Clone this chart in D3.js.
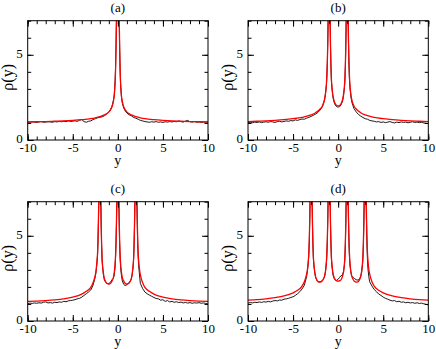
<!DOCTYPE html>
<html>
<head>
<meta charset="utf-8">
<script src="https://cdn.jsdelivr.net/npm/d3@7"></script>
<style>
  body { margin: 0; background: #fff; }
  svg { display: block; }
  text { font-family: "Liberation Serif", "Times New Roman", serif; fill: #000; }
</style>
</head>
<body>
<div id="chart"></div>
<script>
// ---- data ----
const titles = ["(a)", "(b)", "(c)", "(d)"];
const xTicks = [-10, -5, 0, 5, 10];
const yTicks = [0, 5];

// panel (a): single peak at 0
const redA = [[-10,1.06],[-9,1.07],[-8,1.08],[-7,1.1],[-6,1.12],[-5,1.15],[-4,1.19],[-3,1.25],[-2.5,1.3],[-2,1.37],[-1.5,1.47],[-1.2,1.56],[-1,1.65],[-0.8,1.78],[-0.65,1.95],[-0.5,2.25],[-0.4,2.6],[-0.3,3.4],[-0.25,4.2],[-0.2,5.5],[-0.15,7.2],[-0.1,9],[0,14],
  [0.1,9],[0.15,7.2],[0.2,5.5],[0.25,4.2],[0.3,3.4],[0.4,2.6],[0.5,2.25],[0.65,1.95],[0.8,1.78],[1,1.65],[1.2,1.56],[1.5,1.47],[2,1.37],[2.5,1.3],[3,1.25],[4,1.19],[5,1.15],[6,1.12],[7,1.1],[8,1.08],[9,1.07],[10,1.06]];
const blackA = [[-10,1.05],[-9.75,1.04],[-9.5,1.06],[-9.25,1.05],[-9,1.03],[-8.75,1.06],[-8.5,1.08],[-8.25,1.04],[-8,1.05],[-7.75,1.07],[-7.5,1.06],[-7.25,1.04],[-7,1.08],[-6.75,1.06],[-6.5,1.09],[-6.25,1.07],[-6,1.1],[-5.75,1.08],[-5.5,1.12],[-5.25,1.09],[-5,1.1],[-4.75,1.13],[-4.5,1.09],[-4.25,1.16],[-4,1.2],[-3.75,1.08],[-3.5,1.04],[-3.25,1.1],[-3,1.12],[-2.75,1.2],[-2.5,1.25],[-2.25,1.3],[-2,1.33],[-1.75,1.36],[-1.5,1.42],[-1.25,1.52],[-1,1.63],[-0.8,1.8],[-0.65,1.98],[-0.5,2.3],[-0.4,2.65],[-0.3,3.5],[-0.25,4.3],[-0.2,5.6],[-0.15,7.3],[-0.1,9.2],[0,14],
  [0.1,9],[0.15,7.1],[0.2,5.4],[0.25,4.1],[0.3,3.3],[0.4,2.5],[0.5,2.15],[0.65,1.88],[0.8,1.72],[1,1.58],[1.25,1.48],[1.5,1.42],[1.75,1.32],[2,1.28],[2.25,1.22],[2.5,1.15],[2.75,1.12],[3,1.08],[3.25,1.06],[3.5,1.04],[3.75,1.07],[4,1.05],[4.25,1.08],[4.5,1.04],[4.75,1.06],[5,1.03],[5.25,1.07],[5.5,1.05],[5.75,1.08],[6,1.06],[6.25,1.09],[6.5,1.07],[6.75,1.12],[7,1.08],[7.25,1.05],[7.5,1.11],[7.75,1.15],[8,1.07],[8.25,1.05],[8.5,1.08],[8.75,1.04],[9,1.06],[9.25,1.03],[9.5,1.05],[9.75,1.04],[10,1.06]];

// panel (b): peaks at -1, 1
const redB = [[-10,1.08],[-9,1.1],[-8,1.12],[-7,1.15],[-6,1.19],[-5,1.25],[-4,1.33],[-3,1.47],[-2.5,1.6],[-2,1.82],[-1.75,2.0],[-1.5,2.4],[-1.4,2.75],[-1.3,3.3],[-1.25,3.8],[-1.2,4.6],[-1.15,5.8],[-1.1,7.5],[-1.05,10],[-1,15],[-0.95,10],[-0.9,7.3],[-0.85,5.6],[-0.8,4.4],[-0.75,3.6],[-0.7,3.2],[-0.6,2.7],[-0.5,2.4],[-0.35,2.15],[-0.2,2.04],[0,2.0],
  [0.2,2.04],[0.35,2.15],[0.5,2.4],[0.6,2.7],[0.7,3.2],[0.75,3.6],[0.8,4.4],[0.85,5.6],[0.9,7.3],[0.95,10],[1,15],[1.05,10],[1.1,7.5],[1.15,5.8],[1.2,4.6],[1.25,3.8],[1.3,3.3],[1.4,2.75],[1.5,2.4],[1.75,2.0],[2,1.82],[2.5,1.6],[3,1.47],[4,1.33],[5,1.25],[6,1.19],[7,1.15],[8,1.12],[9,1.1],[10,1.08]];
const blackB = [[-10,1.02],[-9.75,1.04],[-9.5,1.01],[-9.25,1.05],[-9,1.03],[-8.75,1.06],[-8.5,1.02],[-8.25,1.05],[-8,1.07],[-7.75,1.04],[-7.5,1.08],[-7.25,1.06],[-7,1.03],[-6.75,1.08],[-6.5,1.1],[-6.25,1.06],[-6,1.09],[-5.75,1.12],[-5.5,1.1],[-5.25,1.14],[-5,1.12],[-4.75,1.18],[-4.5,1.15],[-4.25,1.2],[-4,1.23],[-3.75,1.22],[-3.5,1.28],[-3.25,1.33],[-3,1.38],[-2.75,1.45],[-2.5,1.52],[-2.25,1.62],[-2,1.76],[-1.75,1.95],[-1.5,2.38],[-1.4,2.72],[-1.3,3.25],[-1.25,3.75],[-1.2,4.5],[-1.15,5.7],[-1.1,7.4],[-1.05,10],[-1,15],[-0.95,10],[-0.9,7.2],[-0.85,5.5],[-0.8,4.3],[-0.75,3.5],[-0.7,3.1],[-0.6,2.6],[-0.5,2.3],[-0.35,2.08],[-0.2,1.97],[-0.1,1.93],[0,1.96],
  [0.1,1.92],[0.2,1.98],[0.35,2.1],[0.5,2.3],[0.6,2.6],[0.7,3.1],[0.75,3.5],[0.8,4.3],[0.85,5.5],[0.9,7.2],[0.95,10],[1,15],[1.05,10],[1.1,7.3],[1.15,5.6],[1.2,4.4],[1.25,3.6],[1.3,3.1],[1.4,2.6],[1.5,2.25],[1.75,1.85],[2,1.65],[2.25,1.5],[2.5,1.4],[2.75,1.32],[3,1.25],[3.25,1.22],[3.5,1.15],[3.75,1.12],[4,1.1],[4.25,1.06],[4.5,1.08],[4.75,1.03],[5,1.06],[5.25,1.02],[5.5,1.05],[5.75,1.08],[6,1.03],[6.25,1.0],[6.5,1.05],[6.75,1.02],[7,1.06],[7.25,1.03],[7.5,1.05],[7.75,1.01],[8,1.04],[8.25,1.07],[8.5,1.03],[8.75,1.05],[9,1.02],[9.25,1.04],[9.5,1.0],[9.75,0.98],[10,0.96]];

// panel (c): peaks at -2, 0, 2
const redC = [[-10,1.15],[-9,1.17],[-8,1.2],[-7,1.24],[-6,1.3],[-5,1.4],[-4,1.58],[-3.5,1.74],[-3,1.97],[-2.75,2.25],[-2.5,2.7],[-2.4,3.05],[-2.3,3.6],[-2.25,4.0],[-2.2,4.8],[-2.15,6],[-2.1,7.6],[-2.05,10],[-2,15],[-1.95,10],[-1.9,7.4],[-1.85,5.7],[-1.8,4.5],[-1.75,3.7],[-1.7,3.3],[-1.6,2.8],[-1.5,2.5],[-1.35,2.3],[-1.2,2.2],[-1,2.17],[-0.8,2.22],[-0.65,2.35],[-0.5,2.55],[-0.4,2.85],[-0.3,3.4],[-0.25,3.9],[-0.2,4.7],[-0.15,5.9],[-0.1,7.6],[-0.05,10],[0,15],
  [0.05,10],[0.1,7.6],[0.15,5.9],[0.2,4.7],[0.25,3.9],[0.3,3.4],[0.4,2.85],[0.5,2.55],[0.65,2.35],[0.8,2.22],[1,2.17],[1.2,2.2],[1.35,2.3],[1.5,2.5],[1.6,2.8],[1.7,3.3],[1.75,3.7],[1.8,4.5],[1.85,5.7],[1.9,7.4],[1.95,10],[2,15],[2.05,10],[2.1,7.6],[2.15,6],[2.2,4.8],[2.25,4.0],[2.3,3.6],[2.4,3.05],[2.5,2.7],[2.75,2.25],[3,1.97],[3.5,1.74],[4,1.58],[5,1.4],[6,1.3],[7,1.24],[8,1.2],[9,1.17],[10,1.15]];
const blackC = [[-10,1.02],[-9.75,1.05],[-9.5,1.03],[-9.25,1.06],[-9,1.04],[-8.75,1.07],[-8.5,1.05],[-8.25,1.1],[-8,1.12],[-7.75,1.06],[-7.5,1.08],[-7.25,1.05],[-7,1.1],[-6.75,1.08],[-6.5,1.12],[-6.25,1.1],[-6,1.15],[-5.75,1.13],[-5.5,1.18],[-5.25,1.2],[-5,1.22],[-4.75,1.25],[-4.5,1.3],[-4.25,1.33],[-4,1.4],[-3.75,1.5],[-3.5,1.6],[-3.25,1.7],[-3,1.82],[-2.75,2.1],[-2.5,2.6],[-2.4,2.95],[-2.3,3.5],[-2.25,3.9],[-2.2,4.7],[-2.15,5.9],[-2.1,7.5],[-2.05,10],[-2,15],[-1.95,10],[-1.9,7.3],[-1.85,5.6],[-1.8,4.4],[-1.75,3.6],[-1.7,3.2],[-1.6,2.7],[-1.5,2.42],[-1.35,2.27],[-1.2,2.2],[-1,2.19],[-0.8,2.3],[-0.65,2.42],[-0.5,2.5],[-0.4,2.7],[-0.3,3.2],[-0.25,3.8],[-0.2,4.6],[-0.15,5.8],[-0.1,7.5],[-0.05,10],[0,15],
  [0.05,10],[0.1,7.4],[0.15,5.7],[0.2,4.5],[0.25,3.7],[0.3,3.2],[0.4,2.65],[0.5,2.35],[0.65,2.15],[0.8,2.08],[1,2.12],[1.2,2.25],[1.35,2.32],[1.5,2.48],[1.6,2.75],[1.7,3.25],[1.75,3.65],[1.8,4.4],[1.85,5.6],[1.9,7.3],[1.95,10],[2,15],[2.05,10],[2.1,7.4],[2.15,5.8],[2.2,4.6],[2.25,3.8],[2.3,3.3],[2.4,2.7],[2.5,2.2],[2.75,1.9],[3,1.7],[3.25,1.6],[3.5,1.52],[3.75,1.45],[4,1.38],[4.25,1.32],[4.5,1.3],[4.75,1.22],[5,1.25],[5.25,1.15],[5.5,1.2],[5.75,1.12],[6,1.15],[6.25,1.1],[6.5,1.13],[6.75,1.08],[7,1.11],[7.25,1.06],[7.5,1.09],[7.75,1.05],[8,1.08],[8.25,1.04],[8.5,1.07],[8.75,1.05],[9,1.08],[9.25,1.04],[9.5,1.06],[9.75,1.03],[10,1.0]];

// panel (d): peaks at -3, -1, 1, 3
const redD = [[-10,1.22],[-9,1.25],[-8,1.3],[-7,1.37],[-6,1.47],[-5,1.65],[-4.5,1.8],[-4,2.05],[-3.75,2.3],[-3.5,2.75],[-3.4,3.05],[-3.3,3.6],[-3.25,4.0],[-3.2,4.8],[-3.15,6],[-3.1,7.6],[-3.05,10],[-3,15],[-2.95,10],[-2.9,7.5],[-2.85,5.8],[-2.8,4.6],[-2.75,3.8],[-2.7,3.4],[-2.6,2.9],[-2.5,2.6],[-2.35,2.4],[-2.2,2.3],[-2,2.28],[-1.8,2.33],[-1.65,2.45],[-1.5,2.65],[-1.4,2.95],[-1.3,3.5],[-1.25,4.0],[-1.2,4.8],[-1.15,6],[-1.1,7.6],[-1.05,10],[-1,15],[-0.95,10],[-0.9,7.5],[-0.85,5.8],[-0.8,4.6],[-0.75,3.8],[-0.7,3.4],[-0.6,2.9],[-0.5,2.65],[-0.35,2.45],[-0.2,2.37],[0,2.34],
  [0.2,2.37],[0.35,2.45],[0.5,2.65],[0.6,2.9],[0.7,3.4],[0.75,3.8],[0.8,4.6],[0.85,5.8],[0.9,7.5],[0.95,10],[1,15],[1.05,10],[1.1,7.6],[1.15,6],[1.2,4.8],[1.25,4.0],[1.3,3.5],[1.4,2.95],[1.5,2.65],[1.65,2.45],[1.8,2.33],[2,2.28],[2.2,2.3],[2.35,2.4],[2.5,2.6],[2.6,2.9],[2.7,3.4],[2.75,3.8],[2.8,4.6],[2.85,5.8],[2.9,7.5],[2.95,10],[3,15],[3.05,10],[3.1,7.6],[3.15,6],[3.2,4.8],[3.25,4.0],[3.3,3.6],[3.4,3.05],[3.5,2.75],[3.75,2.3],[4,2.05],[4.5,1.8],[5,1.65],[6,1.47],[7,1.37],[8,1.3],[9,1.25],[10,1.22]];
const blackD = [[-10,1.05],[-9.75,1.08],[-9.5,1.06],[-9.25,1.1],[-9,1.08],[-8.75,1.12],[-8.5,1.09],[-8.25,1.13],[-8,1.11],[-7.75,1.15],[-7.5,1.12],[-7.25,1.17],[-7,1.2],[-6.75,1.18],[-6.5,1.23],[-6.25,1.22],[-6,1.28],[-5.75,1.3],[-5.5,1.33],[-5.25,1.38],[-5,1.42],[-4.75,1.5],[-4.5,1.6],[-4.25,1.72],[-4,1.88],[-3.75,2.1],[-3.5,2.6],[-3.4,2.95],[-3.3,3.5],[-3.25,3.9],[-3.2,4.7],[-3.15,5.9],[-3.1,7.5],[-3.05,10],[-3,15],[-2.95,10],[-2.9,7.4],[-2.85,5.7],[-2.8,4.5],[-2.75,3.7],[-2.7,3.3],[-2.6,2.85],[-2.5,2.55],[-2.35,2.38],[-2.2,2.3],[-2,2.3],[-1.8,2.35],[-1.65,2.45],[-1.5,2.62],[-1.4,2.9],[-1.3,3.45],[-1.25,3.9],[-1.2,4.7],[-1.15,5.9],[-1.1,7.5],[-1.05,10],[-1,15],[-0.95,10],[-0.9,7.4],[-0.85,5.7],[-0.8,4.5],[-0.75,3.7],[-0.7,3.3],[-0.6,2.8],[-0.5,2.55],[-0.35,2.42],[-0.2,2.38],[0,2.45],
  [0.15,2.55],[0.3,2.65],[0.45,2.68],[0.6,2.9],[0.7,3.3],[0.75,3.7],[0.8,4.5],[0.85,5.7],[0.9,7.4],[0.95,10],[1,15],[1.05,10],[1.1,7.4],[1.15,5.8],[1.2,4.6],[1.25,3.8],[1.3,3.35],[1.4,2.9],[1.5,2.65],[1.65,2.55],[1.8,2.5],[2,2.42],[2.2,2.4],[2.35,2.45],[2.5,2.62],[2.6,2.85],[2.7,3.3],[2.75,3.7],[2.8,4.5],[2.85,5.7],[2.9,7.4],[2.95,10],[3,15],[3.05,10],[3.1,7.3],[3.15,5.6],[3.2,4.4],[3.25,3.6],[3.3,3.1],[3.4,2.6],[3.5,2.3],[3.75,2.05],[4,1.85],[4.25,1.72],[4.5,1.58],[4.75,1.5],[5,1.4],[5.25,1.33],[5.5,1.28],[5.75,1.22],[6,1.18],[6.25,1.2],[6.5,1.13],[6.75,1.16],[7,1.1],[7.25,1.12],[7.5,1.07],[7.75,1.1],[8,1.06],[8.25,1.08],[8.5,1.04],[8.75,1.07],[9,1.03],[9.25,1.05],[9.5,1.01],[9.75,0.98],[10,0.94]];

const blackSeries = [blackA, blackB, blackC, blackD];
const redSeries = [redA, redB, redC, redD];

// ---- layout ----
const width = 436, height = 349;
const pw = 180.3, ph = 119.3;
const origins = [[27.7, 20.7], [248, 20.7], [27.7, 201.7], [248, 201.7]];

const svg = d3.select('#chart').append('svg')
    .attr('width', width)
    .attr('height', height);

const x = d3.scaleLinear().domain([-10, 10]).range([0, pw]);
const y = d3.scaleLinear().domain([0, 7]).range([ph, 0]);

const line = d3.line().x(d => x(d[0])).y(d => y(d[1]));
const smooth = d3.line().x(d => x(d[0])).y(d => y(d[1])).curve(d3.curveMonotoneX);

const xMinor = d3.range(-10, 11, 1);
const yMinor = d3.range(0, 8, 1);
const fmt = d => String(d);

titles.forEach((title, i) => {
    const [ox, oy] = origins[i];
    const g = svg.append('g').attr('transform', `translate(${ox},${oy})`);

    g.append('clipPath').attr('id', 'clip' + i)
      .append('rect').attr('width', pw).attr('height', ph);

    const plot = g.append('g').attr('clip-path', `url(#clip${i})`);
    plot.append('path')
        .attr('fill', 'none')
        .attr('stroke', '#000')
        .attr('stroke-width', 0.9)
        .attr('d', line(blackSeries[i]));
    plot.append('path')
        .attr('fill', 'none')
        .attr('stroke', '#ff0000')
        .attr('stroke-width', 1.3)
        .attr('d', smooth(redSeries[i]));

    // inward ticks on all sides: minor every unit, major at labelled values
    [[d3.axisBottom(x), `translate(0,${ph})`, xMinor],
     [d3.axisTop(x), 'translate(0,0)', xMinor],
     [d3.axisLeft(y), 'translate(0,0)', yMinor],
     [d3.axisRight(y), `translate(${pw},0)`, yMinor]
    ].forEach(([axis, tr, minor]) => {
        g.append('g').attr('transform', tr)
            .call(axis.tickValues(minor).tickSize(-3.5).tickFormat(''))
            .call(a => a.select('.domain').remove());
    });
    [[d3.axisBottom(x), `translate(0,${ph})`, xTicks, 3, '0.71em'],
     [d3.axisTop(x), 'translate(0,0)', xTicks, 0, null],
     [d3.axisLeft(y), 'translate(0,0)', yTicks, 5, '0.18em'],
     [d3.axisRight(y), `translate(${pw},0)`, yTicks, 0, null]
    ].forEach(([axis, tr, major, pad, dy]) => {
        const a = g.append('g').attr('transform', tr)
            .call(axis.tickValues(major).tickSize(-6).tickPadding(pad)
                .tickFormat(pad ? fmt : ''));
        a.select('.domain').remove();
        a.selectAll('text')
            .attr('dy', dy)
            .style('font-size', '13px')
            .style('font-family', '"Liberation Serif", serif');
    });
    g.selectAll('.tick line').attr('stroke', '#000');

    g.append('rect')
        .attr('width', pw).attr('height', ph)
        .attr('fill', 'none')
        .attr('stroke', '#000')
        .attr('stroke-width', 1);

    g.append('text')
        .attr('x', pw / 2).attr('y', -9)
        .attr('text-anchor', 'middle')
        .style('font-size', '13px')
        .text(title);

    g.append('text')
        .attr('x', pw / 2).attr('y', ph + 25)
        .attr('text-anchor', 'middle')
        .style('font-size', '14px')
        .text('y');

    g.append('text')
        .attr('transform', `translate(-15,${ph / 2 - 3}) rotate(-90)`)
        .attr('text-anchor', 'middle')
        .style('font-size', '16px')
        .text('ρ(y)');
});
</script>
</body>
</html>
